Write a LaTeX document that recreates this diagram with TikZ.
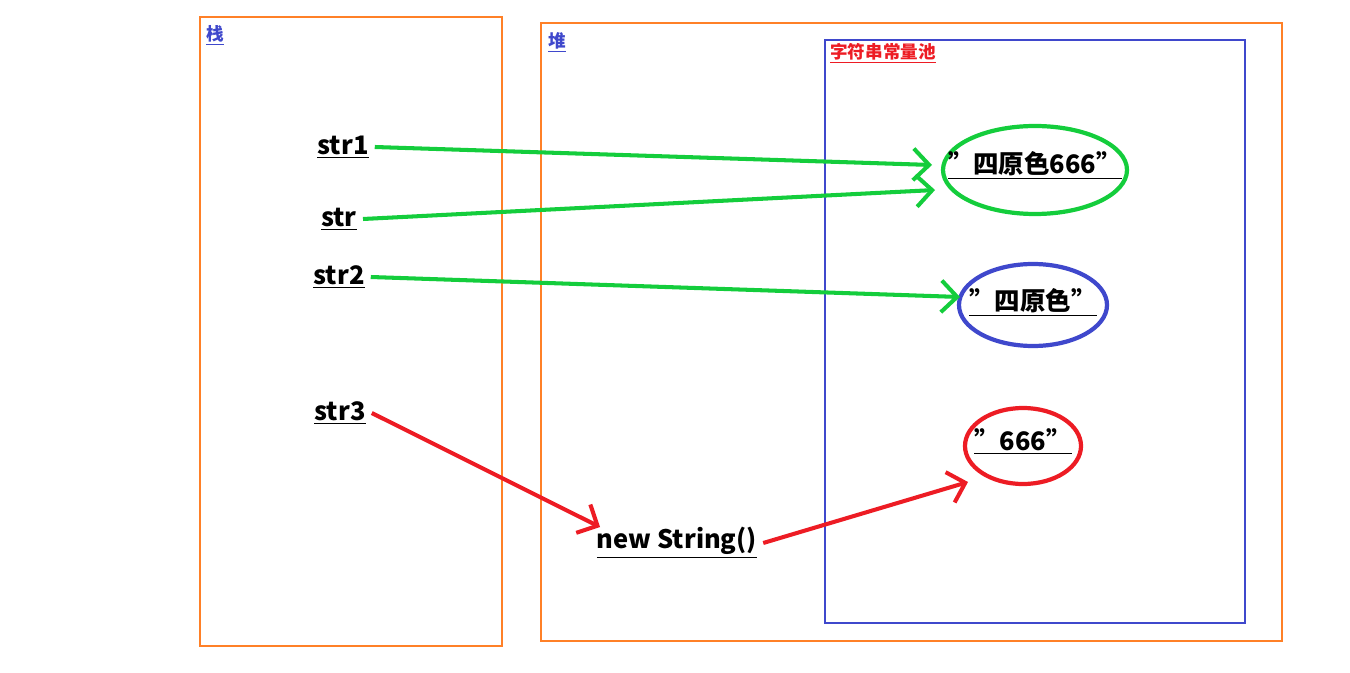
\documentclass[tikz,border=0pt]{standalone}
\usepackage{fontspec}
\setmainfont{Noto Sans CJK SC}
\usetikzlibrary{positioning}
\usetikzlibrary{arrows.meta}
\definecolor{boxorange}{RGB}{255,128,39}
\definecolor{poolblue}{RGB}{63,72,204}
\definecolor{arrgreen}{RGB}{20,205,60}
\definecolor{arrred}{RGB}{237,28,36}
\tikzset{
  var/.style={font=\fontsize{14.5}{16}\selectfont\bfseries},
  tag/.style={font=\fontsize{10}{12}\selectfont\bfseries,anchor=north west,inner sep=0pt},
  region/.style={draw=#1,line width=1.6pt},
  lit/.style={draw=#1,line width=2.4pt,ellipse,inner sep=0pt},
  ref/.style={draw=#1,line width=2.3pt,-{Straight Barb[length=9pt,width=18pt,line width=2.3pt]}}
}
\usetikzlibrary{shapes.geometric}
\begin{document}
\begin{tikzpicture}
\useasboundingbox (0,0) rectangle (27,-13.46);
\draw[region=boxorange] (4,-0.34) rectangle (10.04,-12.92);
\draw[region=boxorange] (10.82,-0.46) rectangle (25.64,-12.82);
\draw[region=poolblue] (16.5,-0.8) rectangle (24.9,-12.46);
\node[tag,text=poolblue](stackL) at (4.12,-0.5){\underline{栈}};
\node[tag,text=poolblue](heapL) at (10.96,-0.64){\underline{堆}};
\node[tag,text=arrred](poolL) at (16.6,-0.86){\underline{字符串常量池}};

\node[var](str1) at (6.86,-2.94){\underline{str1}};
\node[var](str) at (6.78,-4.38){\underline{str}};
\node[var](str2) at (6.78,-5.54){\underline{str2}};
\node[var](str3) at (6.8,-8.26){\underline{str3}};
\node[var](newS) at (13.54,-10.86){\underline{new String()}};

\node[lit=arrgreen,minimum width=3.68cm,minimum height=1.76cm](s666) at (20.7,-3.4){};
\node[var] at (20.7,-3.3){\underline{"四原色666"}};
\node[lit=poolblue,minimum width=2.96cm,minimum height=1.64cm](s) at (20.66,-6.1){};
\node[var] at (20.66,-6.04){\underline{"四原色"}};
\node[lit=arrred,minimum width=2.32cm,minimum height=1.52cm](s6) at (20.46,-8.92){};
\node[var] at (20.46,-8.84){\underline{"666"}};

\coordinate(end1) at (18.64,-3.3);
\coordinate(end2) at (18.7,-3.8);
\coordinate(end3) at (19.2,-5.94);
\coordinate(end4) at (12.0,-10.54);
\coordinate(end5) at (19.36,-9.64);

\draw[ref=arrgreen] (str1.east) -- (end1);
\draw[ref=arrgreen] (str.east) -- (end2);
\draw[ref=arrgreen] (str2.east) -- (end3);
\draw[ref=arrred] (str3.east) -- (end4);
\draw[ref=arrred] (newS.east) -- (end5);
\end{tikzpicture}
\end{document}
